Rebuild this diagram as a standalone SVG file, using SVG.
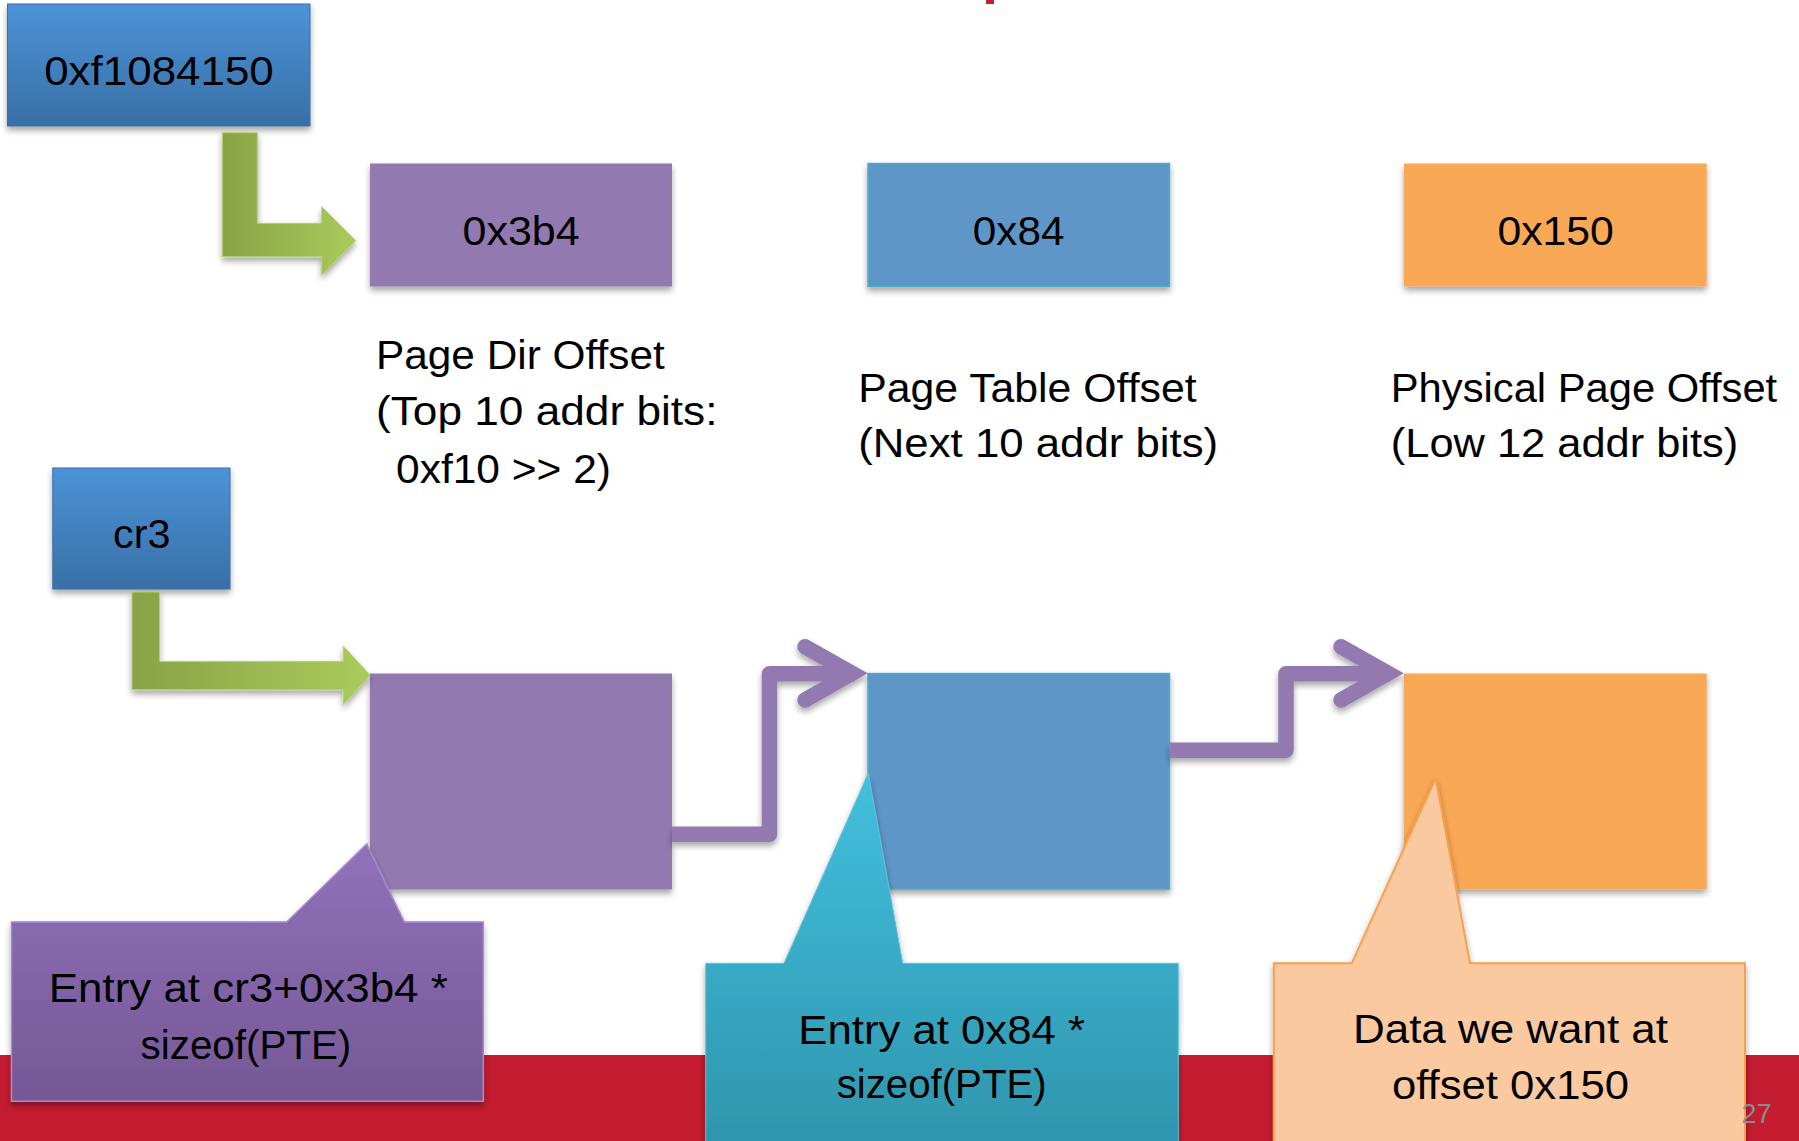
<svg xmlns="http://www.w3.org/2000/svg" width="1799" height="1141" viewBox="0 0 1799 1141">
  <defs>
    <linearGradient id="gBlue" x1="0" y1="0" x2="0" y2="1">
      <stop offset="0" stop-color="#4b93d8"/>
      <stop offset="1" stop-color="#396fa6"/>
    </linearGradient>
    <linearGradient id="gGreen" x1="0" y1="0" x2="1" y2="0">
      <stop offset="0" stop-color="#88a345"/>
      <stop offset="1" stop-color="#abcb5c"/>
    </linearGradient>
    <linearGradient id="gPurpleCall" x1="0" y1="0" x2="0" y2="1">
      <stop offset="0" stop-color="#9072bb"/>
      <stop offset="1" stop-color="#765795"/>
    </linearGradient>
    <linearGradient id="gCyanCall" x1="0" y1="0" x2="0" y2="1">
      <stop offset="0" stop-color="#43c0de"/>
      <stop offset="1" stop-color="#2e95ad"/>
    </linearGradient>
    <filter id="sh" x="-10%" y="-10%" width="120%" height="130%">
      <feDropShadow dx="0" dy="4" stdDeviation="3" flood-color="#000" flood-opacity="0.35"/>
    </filter>
  </defs>
  <style>
    text { font-family: "Liberation Sans", Arial, sans-serif; font-size: 40px; fill: #000; }
    .lbl { font-size: 40px; }
    .pg { font-size: 28px; fill: #8c8c8c; }
    .purple { fill: #927ab0; }
    .blue { fill: #5f96c8; stroke: #4bacc6; stroke-width: 1.5; }
    .orange { fill: #f9a856; }
    .conn { fill: none; stroke: #927ab0; stroke-width: 15.5; }
  </style>

  <rect x="0" y="0" width="1799" height="1141" fill="#ffffff"/>
  <!-- red footer band -->
  <rect x="0" y="1055" width="1799" height="86" fill="#c41c30"/>
  <!-- cut-off title mark -->
  <rect x="986" y="0" width="8" height="4" fill="#c41c30"/>

  <g id="addr">
    <rect x="7.5" y="4" width="302.5" height="122" fill="url(#gBlue)" stroke="#3a6ea5" stroke-width="1" filter="url(#sh)"/>
    <text x="44.2" y="85" textLength="229.6" lengthAdjust="spacingAndGlyphs">0xf1084150</text>
  </g>

  <g id="cr3">
    <rect x="52.8" y="468" width="177.2" height="121" fill="url(#gBlue)" stroke="#3a6ea5" stroke-width="1" filter="url(#sh)"/>
    <text x="113" y="548" textLength="57.4" lengthAdjust="spacingAndGlyphs">cr3</text>
  </g>

  <g id="pdoff">
    <rect x="370" y="163.5" width="302" height="123" class="purple" filter="url(#sh)"/>
    <text x="462.6" y="245" textLength="117" lengthAdjust="spacingAndGlyphs">0x3b4</text>
  </g>
  <g id="ptoff">
    <rect x="868" y="163.5" width="301.5" height="123" class="blue" filter="url(#sh)"/>
    <text x="972.8" y="245" textLength="91.7" lengthAdjust="spacingAndGlyphs">0x84</text>
  </g>
  <g id="ppoff">
    <rect x="1404" y="163.5" width="302.7" height="123" class="orange" filter="url(#sh)"/>
    <text x="1497.4" y="245" textLength="116.4" lengthAdjust="spacingAndGlyphs">0x150</text>
  </g>

  <g id="pdlabel">
    <text x="376" y="369" textLength="288.7" lengthAdjust="spacingAndGlyphs">Page Dir Offset</text>
    <text x="376" y="425" textLength="341.5" lengthAdjust="spacingAndGlyphs">(Top 10 addr bits:</text>
    <text x="396" y="483" textLength="215" lengthAdjust="spacingAndGlyphs">0xf10 &gt;&gt; 2)</text>
  </g>
  <g id="ptlabel">
    <text x="858.2" y="401.8" textLength="338.4" lengthAdjust="spacingAndGlyphs">Page Table Offset</text>
    <text x="858.2" y="457" textLength="360" lengthAdjust="spacingAndGlyphs">(Next 10 addr bits)</text>
  </g>
  <g id="pplabel">
    <text x="1390.8" y="401.8" textLength="386.4" lengthAdjust="spacingAndGlyphs">Physical Page Offset</text>
    <text x="1390.8" y="457" textLength="347.4" lengthAdjust="spacingAndGlyphs">(Low 12 addr bits)</text>
  </g>

  <g id="pd">
    <rect x="370" y="673.5" width="302" height="216" class="purple" filter="url(#sh)"/>
  </g>
  <g id="pt">
    <rect x="868" y="673.5" width="301.5" height="215.5" class="blue" filter="url(#sh)"/>
  </g>
  <g id="pp">
    <rect x="1404" y="673.5" width="302.7" height="216" class="orange" filter="url(#sh)"/>
  </g>

  <g id="connectors">
    <path d="M222.3 132.7 H257.3 V223.3 H321.7 V206.7 L355.7 240.7 L321.7 275 V256.7 H222.3 Z" fill="url(#gGreen)" stroke="#b5d276" stroke-width="1" filter="url(#sh)"/>
    <path d="M132 592 H159.6 V661.4 H343.2 V645.9 L370.2 675.3 L343.2 704.5 V689.7 H132 Z" fill="url(#gGreen)" stroke="#b5d276" stroke-width="1" filter="url(#sh)"/>
    <g filter="url(#sh)">
      <path class="conn" d="M672 834.2 H769.5 V673.8 H855" stroke-linejoin="round"/>
      <path class="conn" d="M805 646.7 L852 673.3 L805 700" stroke-linecap="round" stroke-linejoin="miter" stroke-miterlimit="10"/>
      <path class="conn" d="M1169.5 750.2 H1286 V673.8 H1390" stroke-linejoin="round"/>
      <path class="conn" d="M1341 646.7 L1388 673.3 L1341 700" stroke-linecap="round" stroke-linejoin="miter" stroke-miterlimit="10"/>
    </g>
  </g>

  <g id="callout1">
    <path d="M11.5 922 H286.7 L366.7 844 L404.3 922 H483.3 V1101.3 H11.5 Z" fill="url(#gPurpleCall)" stroke="#a38cc8" stroke-width="1.5" filter="url(#sh)"/>
    <text x="48.8" y="1002" textLength="399" lengthAdjust="spacingAndGlyphs">Entry at cr3+0x3b4 *</text>
    <text x="140.6" y="1059" textLength="210.7" lengthAdjust="spacingAndGlyphs">sizeof(PTE)</text>
  </g>

  <g id="callout2">
    <path d="M705.7 963.3 H784 L868.3 773.3 L902.7 963.3 H1178.3 V1146 H705.7 Z" fill="url(#gCyanCall)" stroke="#5fc3db" stroke-width="1" filter="url(#sh)"/>
    <text x="798.3" y="1044" textLength="286.7" lengthAdjust="spacingAndGlyphs">Entry at 0x84 *</text>
    <text x="836.7" y="1098.3" textLength="210" lengthAdjust="spacingAndGlyphs">sizeof(PTE)</text>
  </g>

  <g id="callout3">
    <path d="M1273.8 963.3 H1351.7 L1435.7 778.3 L1470 963.3 H1745 V1146 H1273.8 Z" fill="#fbc9a0" stroke="#f6a04b" stroke-width="2" filter="url(#sh)"/>
    <text x="1353" y="1043" textLength="315" lengthAdjust="spacingAndGlyphs">Data we want at</text>
    <text x="1392" y="1098.6" textLength="237" lengthAdjust="spacingAndGlyphs">offset 0x150</text>
  </g>

  <text class="pg" x="1741.6" y="1122.7" textLength="30" lengthAdjust="spacingAndGlyphs">27</text>
</svg>
